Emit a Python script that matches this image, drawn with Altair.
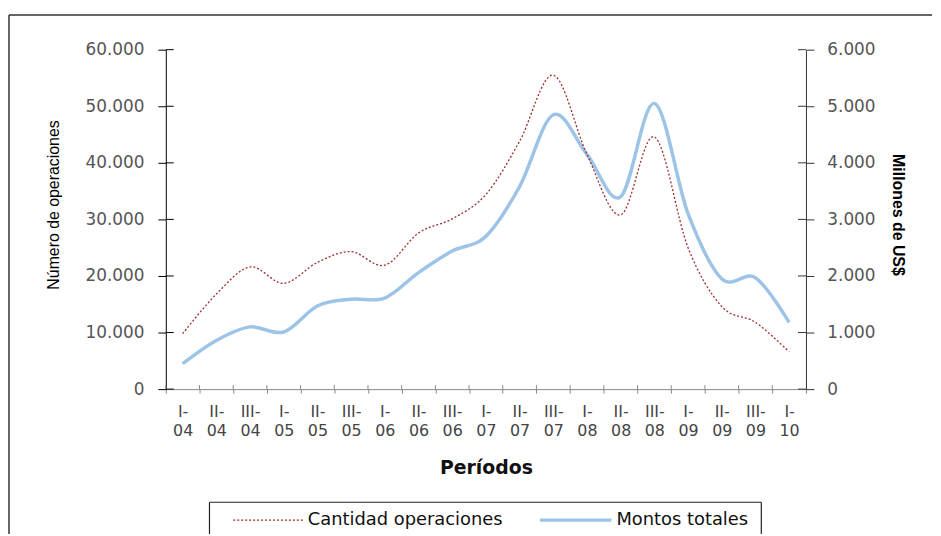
import altair as alt
import pandas as pd

# ---- data ----
periods = ["I-04", "II-04", "III-04", "I-05", "II-05", "III-05", "I-06", "II-06", "III-06",
           "I-07", "II-07", "III-07", "I-08", "II-08", "III-08", "I-09", "II-09", "III-09", "I-10"]
cantidad = [9800, 16800, 21600, 18700, 22400, 24300, 21900, 27600, 30100,
            34400, 43800, 55500, 41500, 30800, 44600, 25000, 14600, 11800, 6600]
montos = [450, 860, 1100, 1010, 1470, 1590, 1610, 2060, 2440,
          2700, 3580, 4850, 4150, 3400, 5050, 3100, 1950, 1970, 1180]
series_names = ["Cantidad operaciones", "Montos totales"]
left_ticks = [0, 10000, 20000, 30000, 40000, 50000, 60000]
right_ticks = [0, 1000, 2000, 3000, 4000, 5000, 6000]

df = pd.DataFrame({"periodo": periods, "cantidad": cantidad, "montos": montos})

W, H = 645, 342
LBL_FONT = "DejaVu Sans"
TTL_FONT = "Liberation Sans"
RED = "#9b2d2d"
BLUE = "#9dc3e6"

x_scale = alt.Scale(type="band", domain=periods, paddingInner=0, paddingOuter=0)
x_axis = alt.Axis(
    title="Períodos", labelAngle=0, tickBand="extent", labelOverlap=False,
    labelExpr="datum.label ? [split(datum.label, '-')[0] + '-', split(datum.label, '-')[1]] : ''",
    labelFont=LBL_FONT, labelFontSize=16, labelColor="#444", labelLineHeight=19,
    labelPadding=11, tickSize=4, tickColor="#888", domainColor="#888",
    titleFont=LBL_FONT, titleFontWeight="bold", titleFontSize=19, titleColor="#111",
    titleY=79, titleBaseline="middle", grid=False,
)
x_enc = alt.X("periodo:N", sort=periods, scale=x_scale, axis=x_axis)

fmt = "replace(format(datum.value, ','), ',', '.')"

y_left = alt.Y(
    "cantidad:Q", scale=alt.Scale(domain=[0, 60000], nice=False, zero=True),
    axis=alt.Axis(
        orient="left", values=left_ticks, labelExpr=fmt, title="Número de operaciones",
        domainColor="#000", tickColor="#000", tickSize=8, labelPadding=14,
        labelFont=LBL_FONT, labelFontSize=17, labelColor="#555",
        titleFont=TTL_FONT, titleFontSize=16, titleColor="#000", titleFontWeight="normal",
        titleX=-113, titleY=156, titleAngle=270, titleBaseline="middle", titleAlign="center",
        grid=False,
    ),
)
y_right = alt.Y(
    "montos:Q", scale=alt.Scale(domain=[0, 6000], nice=False, zero=True),
    axis=alt.Axis(
        orient="right", values=right_ticks, labelExpr=fmt, title="Millones de US$",
        domainColor="#333", tickColor="#333", tickSize=8, labelPadding=13,
        labelFont=LBL_FONT, labelFontSize=17, labelColor="#555",
        titleFont=TTL_FONT, titleFontSize=16, titleColor="#000", titleFontWeight="bold",
        titleX=92, titleY=166, titleAngle=90, titleBaseline="middle", titleAlign="center",
        grid=False,
    ),
)

red = alt.Chart(df).mark_line(color=RED, strokeWidth=1.3, strokeDash=[2, 2],
                              interpolate="cardinal").encode(x=x_enc, y=y_left)
red_ticks = alt.Chart(pd.DataFrame({"cantidad": left_ticks})).mark_rule(
    color="#000", strokeWidth=1).encode(y=y_left, x=alt.value(0), x2=alt.value(8))

blue = alt.Chart(df).mark_line(color=BLUE, strokeWidth=3.5,
                               interpolate="cardinal").encode(x=x_enc, y=y_right)
blue_ticks = alt.Chart(pd.DataFrame({"montos": right_ticks})).mark_rule(
    color="#333", strokeWidth=1).encode(y=y_right, x=alt.value(W - 8), x2=alt.value(W))

x_ticks = alt.Chart(pd.DataFrame({"periodo": periods})).mark_rule(
    color="#888", strokeWidth=1).encode(
    x=alt.X("periodo:N", sort=periods, scale=x_scale, bandPosition=0, axis=x_axis),
    y=alt.value(H - 4), y2=alt.value(H))

one = pd.DataFrame({"k": [0]})
BOT = 488

def rule(x, y, x2=None, y2=None, color="#333", width=1.5, dash=None):
    kw = dict(color=color, strokeWidth=width)
    if dash:
        kw["strokeDash"] = dash
    enc = dict(x=alt.value(x), y=alt.value(y))
    if x2 is not None:
        enc["x2"] = alt.value(x2)
    if y2 is not None:
        enc["y2"] = alt.value(y2)
    return alt.Chart(one).mark_rule(**kw).encode(**enc)

# outer frame
frame_left = rule(-158, -35, y2=BOT)
frame_top = rule(-158, -35, x2=772)

# legend box
leg_top = rule(44, 456, x2=600, color="#222", width=1.2)
leg_left = rule(44, 456, y2=BOT, color="#222", width=1.2)
leg_right = rule(600, 456, y2=BOT, color="#222", width=1.2)
leg_red = rule(68, 474, x2=139, color=RED, width=1.3, dash=[2, 2])
leg_blue = rule(377, 474, x2=449, color=BLUE, width=3.5)

def leg_text(name, x):
    return alt.Chart(pd.DataFrame({"name": [name]})).mark_text(
        align="left", baseline="middle", font=LBL_FONT, fontSize=18, color="#111"
    ).encode(text="name:N", x=alt.value(x), y=alt.value(474))

leg_t1 = leg_text(series_names[0], 143)
leg_t2 = leg_text(series_names[1], 454)

chart = alt.layer(
    alt.layer(blue, blue_ticks),
    alt.layer(red, red_ticks),
    x_ticks,
    frame_left, frame_top, leg_top, leg_left, leg_right, leg_red, leg_blue, leg_t1, leg_t2,
).resolve_scale(y="independent").properties(
    width=W, height=H, padding={"top": 4, "left": 0, "right": 0, "bottom": 0}
).configure_view(stroke=None)

chart.save("out.html", embed_options={"renderer": "svg", "actions": False})
